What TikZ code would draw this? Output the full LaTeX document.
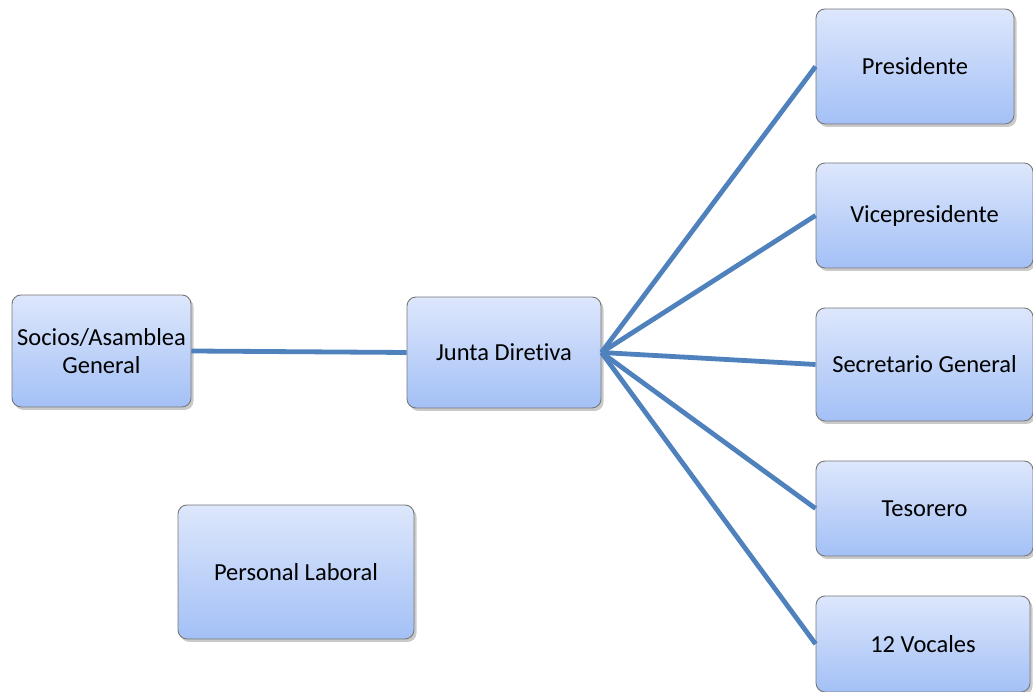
\documentclass[tikz,border=0pt]{standalone}
\usepackage{fontspec}
\setmainfont{Carlito}[Ligatures=NoCommon]
\usetikzlibrary{shadows,shadings}
\definecolor{linkblue}{RGB}{79,129,189}
\definecolor{boxtop}{RGB}{221,231,252}
\definecolor{boxbot}{RGB}{163,192,246}
\definecolor{boxedge}{RGB}{120,120,120}
\tikzset{
  orgbox/.style={draw=boxedge, line width=0.9pt, rounded corners=9pt,
    top color=boxtop, bottom color=boxbot, inner sep=0pt, align=center,
    font=\fontsize{24.5}{28}\selectfont, text=black,
    drop shadow={shadow xshift=2.5pt, shadow yshift=-3pt, opacity=0.35, fill=black!60}},
  link/.style={draw=linkblue, line width=4.8pt}
}
\begin{document}
\begin{tikzpicture}[x=1pt,y=1pt]
\useasboundingbox (0,0) rectangle (1033,692);
\node[orgbox, minimum width=179pt, minimum height=112pt] (socios) at (101.5,341) {Socios/Asamblea\\General};
\node[orgbox, minimum width=194pt, minimum height=111pt] (junta) at (504,339.5) {Junta Diretiva};
\node[orgbox, minimum width=198pt, minimum height=115pt] (pres) at (915,625.5) {Presidente};
\node[orgbox, minimum width=217pt, minimum height=105pt] (vice) at (924.5,476.5) {Vicepresidente};
\node[orgbox, minimum width=217pt, minimum height=113pt] (secr) at (924.5,327.5) {Secretario General};
\node[orgbox, minimum width=217pt, minimum height=95pt] (teso) at (924.5,183.5) {Tesorero};
\node[orgbox, minimum width=214pt, minimum height=96pt] (voc) at (923,48) {12 Vocales};
\node[orgbox, minimum width=236pt, minimum height=134pt] (pers) at (296,120) {Personal Laboral};
\draw[link] (socios.east) -- (junta.west);
\draw[link] (junta.east) -- (pres.west);
\draw[link] (junta.east) -- (vice.west);
\draw[link] (junta.east) -- (secr.west);
\draw[link] (junta.east) -- (teso.west);
\draw[link] (junta.east) -- (voc.west);
\end{tikzpicture}
\end{document}
